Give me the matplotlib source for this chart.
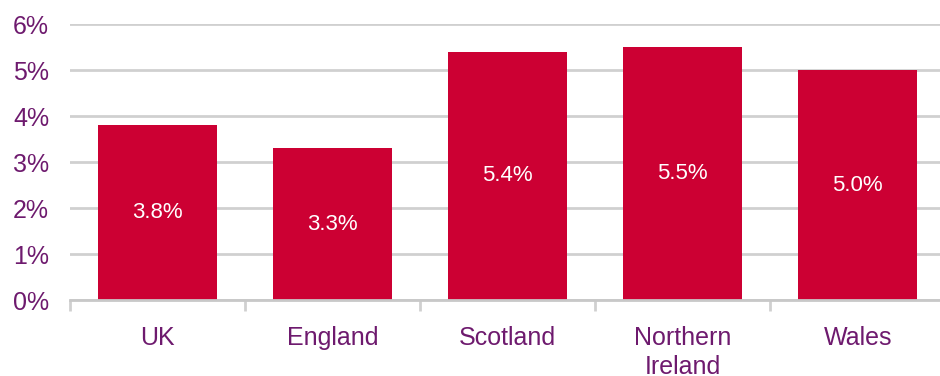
import matplotlib.pyplot as plt
import numpy as np

plt.rcParams['font.family'] = ['Liberation Sans', 'DejaVu Sans']

regions = ['UK', 'England', 'Scotland', 'Northern\nIreland', 'Wales']
rates = [3.8, 3.3, 5.4, 5.5, 5.0]
yticks = [0, 1, 2, 3, 4, 5, 6]

bar_col = '#CC0033'
txt_col = '#6E1A6E'
grid_col = '#D0D0D0'

fig = plt.figure(figsize=(9.4, 3.76), dpi=100)
ax = fig.add_axes([0.0745, 0.202, 0.931, 0.734])

x = np.arange(len(regions))
bars = ax.bar(x, rates, width=0.68, color=bar_col, zorder=3)

for b, v in zip(bars, rates):
    ax.text(b.get_x() + b.get_width() / 2, v / 2, '%.1f%%' % v,
            ha='center', va='center', color='white', fontsize=16)

ax.set_xlim(-0.5, len(regions) - 0.5)
ax.set_ylim(0, 6)
ax.set_yticks(yticks)
ax.set_yticklabels(['%d%%' % t for t in yticks])
ax.yaxis.grid(True, color=grid_col, linewidth=2, zorder=0)

# category labels in the middle, ticks on the boundaries
ax.set_xticks(x)
ax.set_xticklabels(regions, linespacing=1.25)
ax.set_xticks(np.arange(len(regions) + 1) - 0.5, minor=True)
ax.tick_params(axis='x', which='major', length=0, pad=19, labelsize=18, labelcolor=txt_col)
ax.tick_params(axis='x', which='minor', length=8, width=2, color=grid_col, direction='out')
ax.tick_params(axis='y', length=0, pad=15, labelsize=18, labelcolor=txt_col)

for s in ['top', 'right', 'left']:
    ax.spines[s].set_visible(False)
ax.spines['bottom'].set_color('#C8C8C8')
ax.spines['bottom'].set_linewidth(2)
ax.spines['bottom'].set_zorder(4)

fig.savefig('out.png', dpi=100)
